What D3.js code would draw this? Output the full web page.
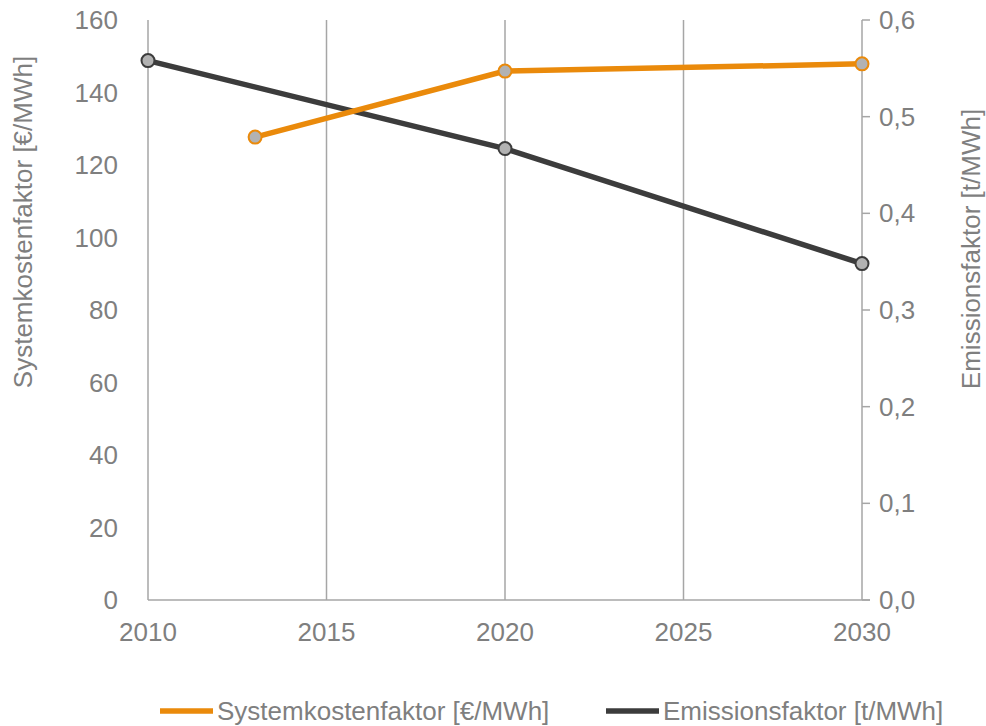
<!DOCTYPE html>
<html><head><meta charset="utf-8">
<script src="https://cdn.jsdelivr.net/npm/d3@7"></script>
<style>body{margin:0;background:#fff}svg{display:block}text{font-family:"Liberation Sans",Arial,sans-serif;fill:#7f7f7f}</style>
</head><body><svg id="c" width="986" height="726"></svg>
<script>
const costYears = [2013, 2020, 2030];
const costValues = [127.7, 145.9, 147.9];
const emisYears = [2010, 2020, 2030];
const emisValues = [0.558, 0.467, 0.348];
const xTicks = [2010, 2015, 2020, 2025, 2030];
const leftTicks = [0, 20, 40, 60, 80, 100, 120, 140, 160];
const rightTicks = [0, 0.1, 0.2, 0.3, 0.4, 0.5, 0.6];
const seriesNames = ["Systemkostenfaktor [€/MWh]", "Emissionsfaktor [t/MWh]"];
const colors = ["#ea8a0b", "#3c3c3c"];

const svg = d3.select("#c");
const L = 148, R = 862, T = 20, B = 600;
const x = d3.scaleLinear().domain([2010, 2030]).range([L, R]);
const yL = d3.scaleLinear().domain([0, 160]).range([B, T]);
const yR = d3.scaleLinear().domain([0, 0.6]).range([B, T]);
const grid = "#a6a6a6";

svg.append("g").selectAll("line").data(xTicks).join("line")
  .attr("x1", d => x(d)).attr("x2", d => x(d)).attr("y1", T).attr("y2", B)
  .attr("stroke", grid).attr("stroke-width", 1.5);
svg.append("line").attr("x1", L).attr("x2", R + 8).attr("y1", B).attr("y2", B)
  .attr("stroke", grid).attr("stroke-width", 1.5);
svg.append("g").selectAll("line").data(rightTicks).join("line")
  .attr("x1", R).attr("x2", R + 8).attr("y1", d => yR(d)).attr("y2", d => yR(d))
  .attr("stroke", grid).attr("stroke-width", 1.5);

const fs = 26;
svg.append("g").selectAll("text").data(xTicks).join("text")
  .attr("x", d => x(d)).attr("y", 641).attr("text-anchor", "middle")
  .attr("font-size", fs).text(d => d);
svg.append("g").selectAll("text").data(leftTicks).join("text")
  .attr("x", 118).attr("y", d => yL(d) + 9).attr("text-anchor", "end")
  .attr("font-size", fs).text(d => d);
const fmt = d => d3.format(".1f")(d).replace(".", ",");
svg.append("g").selectAll("text").data(rightTicks).join("text")
  .attr("x", 879).attr("y", d => yR(d) + 9).attr("text-anchor", "start")
  .attr("font-size", fs).text(fmt);
svg.append("text").attr("transform", "translate(32,222) rotate(-90)")
  .attr("text-anchor", "middle").attr("font-size", fs).text(seriesNames[0]);
svg.append("text").attr("transform", "translate(980,249) rotate(-90)")
  .attr("text-anchor", "middle").attr("font-size", fs).text(seriesNames[1]);

const costData = costYears.map((d, i) => [d, costValues[i]]);
const emisData = emisYears.map((d, i) => [d, emisValues[i]]);
const lineL = d3.line().x(d => x(d[0])).y(d => yL(d[1]));
const lineR = d3.line().x(d => x(d[0])).y(d => yR(d[1]));
svg.append("path").attr("d", lineR(emisData)).attr("fill", "none")
  .attr("stroke", colors[1]).attr("stroke-width", 5.5);
svg.append("path").attr("d", lineL(costData)).attr("fill", "none")
  .attr("stroke", colors[0]).attr("stroke-width", 5.5);
svg.append("g").selectAll("circle").data(emisData).join("circle")
  .attr("cx", d => x(d[0])).attr("cy", d => yR(d[1])).attr("r", 6.5)
  .attr("fill", "#b2b2b2").attr("stroke", colors[1]).attr("stroke-width", 2);
svg.append("g").selectAll("circle").data(costData).join("circle")
  .attr("cx", d => x(d[0])).attr("cy", d => yL(d[1])).attr("r", 6.5)
  .attr("fill", "#b2b2b2").attr("stroke", colors[0]).attr("stroke-width", 2);

const leg = [{x: 160, c: colors[0], t: seriesNames[0]}, {x: 606, c: colors[1], t: seriesNames[1]}];
const lg = svg.append("g").selectAll("g").data(leg).join("g");
lg.append("line").attr("x1", d => d.x).attr("x2", d => d.x + 53).attr("y1", 711).attr("y2", 711)
  .attr("stroke", d => d.c).attr("stroke-width", 5.5);
lg.append("text").attr("x", d => d.x + 57).attr("y", 720).attr("font-size", fs).text(d => d.t);
</script></body></html>
